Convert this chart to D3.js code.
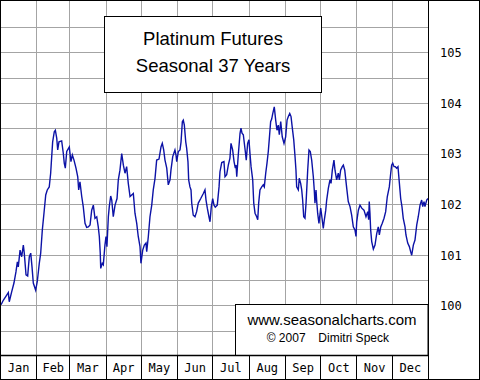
<!DOCTYPE html>
<html><head><meta charset="utf-8">
<script src="https://cdn.jsdelivr.net/npm/d3@7"></script>
<style>html,body{margin:0;padding:0;background:#fff;} svg{display:block;}</style>
</head><body>
<svg id="c" width="480" height="380"></svg>
<script>
const titleLines = ["Platinum Futures", "Seasonal 37 Years"];
const creditUrl = "www.seasonalcharts.com";
const creditYear = "\u00A9 2007";
const creditName = "Dimitri Speck";
const months = ["Jan","Feb","Mar","Apr","May","Jun","Jul","Aug","Sep","Oct","Nov","Dec"];
const monthStartDays = [0,31,59,90,120,151,181,212,243,273,304,334,365];
const yTicks = [100,101,102,103,104,105];
const days = [0.9,2.8,5.7,7.1,7.9,10.0,11.9,13.6,14.8,15.6,17.1,18.5,19.9,20.7,22.2,23.6,25.0,26.2,27.3,28.4,30.4,31.8,33.5,34.7,36.1,37.5,39.0,40.3,42.0,43.2,44.1,44.9,46.3,47.2,48.4,49.2,50.3,52.6,54.0,54.8,55.7,56.9,59.1,60.5,61.7,63.1,64.8,66.3,67.1,68.2,69.7,71.0,72.5,73.9,75.3,76.8,78.2,79.6,81.0,82.5,83.8,84.7,85.5,85.9,87.2,88.1,89.5,90.4,91.2,92.4,93.2,94.4,95.3,96.6,98.1,99.8,100.9,102.3,103.8,105.2,106.6,108.0,109.4,110.9,113.7,115.1,116.6,117.9,119.4,120.2,121.7,123.1,124.5,125.1,126.5,127.9,129.4,130.7,132.2,133.6,135.6,137.3,138.4,139.6,140.7,142.2,143.5,145.0,145.8,147.3,149.2,150.1,150.7,152.1,153.5,154.4,155.5,156.3,157.2,158.4,159.2,160.3,160.9,162.0,162.9,163.5,164.8,166.3,167.7,169.1,171.2,173.4,174.8,175.7,176.8,178.2,179.1,180.2,181.4,182.5,183.6,185.3,186.8,187.6,189.1,191.0,191.9,193.3,194.7,196.1,197.0,198.4,199.6,200.7,201.3,201.9,203.2,204.7,205.5,206.4,207.5,209.2,210.0,211.2,212.3,213.2,214.1,215.5,216.4,217.5,218.9,219.8,220.6,221.7,223.2,224.5,225.4,226.6,227.7,228.8,229.7,230.8,231.7,232.6,233.9,235.1,236.2,237.3,238.2,239.4,240.7,242.2,243.6,244.8,245.9,247.1,248.2,249.3,250.5,251.6,252.4,253.0,254.4,255.2,256.4,257.3,258.1,259.0,260.1,261.0,262.4,263.5,264.6,265.8,267.2,268.0,268.6,269.5,270.1,270.9,272.0,273.5,274.3,275.7,276.6,277.8,278.6,280.0,281.4,282.3,283.4,284.8,285.7,287.1,288.5,289.4,290.5,291.9,292.8,294.0,295.7,297.0,298.5,299.9,301.3,302.7,303.6,304.2,305.6,307.0,308.5,310.4,312.1,313.6,314.4,314.9,315.5,316.1,317.0,318.4,319.8,321.3,322.6,323.5,324.7,326.0,327.5,328.9,330.3,332.0,333.2,334.0,334.9,336.0,337.1,338.3,339.4,340.5,341.7,342.8,343.9,345.4,346.2,347.7,349.1,350.2,351.1,352.5,353.9,355.4,356.7,358.2,359.6,360.5,361.6,362.4,363.9,365.0];
const values = [100.01,100.10,100.20,100.25,100.07,100.27,100.44,100.66,100.86,100.76,101.09,100.96,101.19,101.03,100.60,100.58,100.96,101.03,100.76,100.44,100.30,100.47,100.83,101.03,101.49,101.82,102.18,102.28,102.34,102.61,102.94,103.23,103.43,103.46,103.30,103.07,103.23,103.25,103.00,102.81,102.71,103.04,103.13,102.84,102.97,102.87,102.71,102.54,102.28,102.44,102.15,101.95,101.62,101.54,101.55,101.59,101.88,101.98,101.72,101.75,101.55,101.36,101.03,100.73,100.83,100.80,101.19,101.36,101.16,101.75,101.95,102.16,102.08,101.75,101.98,102.11,102.48,102.67,103.00,102.77,102.61,102.74,102.41,102.15,102.21,101.82,101.62,101.36,101.16,100.83,101.09,101.19,101.23,101.06,101.36,101.75,101.98,102.28,102.51,102.87,102.89,103.13,103.20,103.07,102.87,102.71,102.38,102.48,102.67,102.94,103.07,102.97,102.84,103.04,103.07,103.23,103.63,103.66,103.56,103.23,103.10,102.84,102.48,102.34,102.28,102.02,101.78,101.75,101.85,102.02,102.11,102.21,102.28,102.08,101.92,101.75,101.65,101.95,102.11,101.98,101.94,101.98,102.34,102.64,102.82,102.84,102.54,102.58,102.77,102.91,103.20,103.07,102.84,102.71,102.77,102.54,102.97,103.40,103.50,103.40,103.37,103.04,102.87,103.20,103.27,103.00,102.74,102.48,102.02,101.82,101.75,101.69,102.02,102.28,102.34,102.38,102.34,102.61,102.81,103.04,103.30,103.63,103.68,103.79,103.92,103.66,103.46,103.56,103.37,103.63,103.33,103.20,103.33,103.66,103.73,103.79,103.73,103.50,103.27,102.94,102.67,102.34,102.28,102.51,102.41,102.28,102.08,101.75,101.72,102.02,102.67,103.07,103.04,102.87,102.54,102.28,102.02,102.28,102.05,101.82,101.62,101.92,101.78,101.52,101.69,101.88,102.08,102.31,102.48,102.41,102.67,102.87,102.67,102.48,102.61,102.48,102.67,102.74,102.77,102.67,102.31,102.05,101.95,101.78,101.55,101.49,101.36,101.65,101.88,101.98,101.92,101.88,101.75,101.85,101.69,102.05,101.82,101.49,101.26,101.11,101.19,101.42,101.55,101.39,101.55,101.62,101.72,101.85,102.15,102.34,102.61,102.77,102.81,102.74,102.74,102.71,102.74,102.44,102.11,101.95,101.72,101.55,101.39,101.23,101.16,101.06,100.99,101.19,101.29,101.59,101.75,101.98,102.08,101.95,102.05,101.95,102.08,102.11];

const svg = d3.select("#c");
const W = 480, H = 380, plotR = 428, plotB = 355;
const x = d3.scaleLinear().domain([0, 365]).range([0, plotR]);
const y = d3.scaleLinear().domain([99, 106]).range([355.9, 1.7]);
const crisp = v => Math.round(v) + 0.5;

svg.append("rect").attr("width", W).attr("height", H).attr("fill", "#fff");

// horizontal grid every 0.5
const hGrid = d3.range(99.5, 106, 0.5);
svg.append("g").selectAll("line").data(hGrid).join("line")
  .attr("x1", 0).attr("x2", plotR)
  .attr("y1", d => crisp(y(d))).attr("y2", d => crisp(y(d)))
  .attr("stroke", "#a4a4a4").attr("stroke-width", 1);

// vertical grid at month starts
const inner = monthStartDays.slice(1, -1);
svg.append("g").selectAll("line").data(inner).join("line")
  .attr("x1", d => crisp(x(d))).attr("x2", d => crisp(x(d)))
  .attr("y1", 0).attr("y2", plotB)
  .attr("stroke", "#a4a4a4").attr("stroke-width", 1);

// data line
const line = d3.line().x((d, i) => x(days[i])).y(d => y(d));
svg.append("path").datum(values).attr("d", line)
  .attr("fill", "none").attr("stroke", "#0c12a6").attr("stroke-width", 1.4)
  .attr("stroke-linejoin", "miter");

// title box
const tb = svg.append("g");
tb.append("rect").attr("x", 104.5).attr("y", 16.5).attr("width", 217).attr("height", 76)
  .attr("fill", "#fff").attr("stroke", "#000").attr("stroke-width", 1);
tb.selectAll("text").data(titleLines).join("text")
  .attr("x", 213).attr("y", (d, i) => i === 0 ? 45 : 72)
  .attr("text-anchor", "middle")
  .attr("font-family", "'Liberation Sans', Arial, sans-serif")
  .attr("font-size", 18.5).attr("fill", "#000").text(d => d);

// credit box
const cb = svg.append("g");
cb.append("rect").attr("x", 235.5).attr("y", 304.5).attr("width", 192.5).attr("height", 51)
  .attr("fill", "#fff").attr("stroke", "#000").attr("stroke-width", 1);
cb.append("text").attr("x", 332).attr("y", 325).attr("text-anchor", "middle")
  .attr("font-family", "'Liberation Sans', Arial, sans-serif").attr("font-size", 15)
  .attr("fill", "#000").text(creditUrl);
cb.append("text").attr("x", 266.7).attr("y", 342.3)
  .attr("font-family", "'Liberation Sans', Arial, sans-serif").attr("font-size", 12)
  .attr("fill", "#000").text(creditYear);
cb.append("text").attr("x", 318.3).attr("y", 342.3)
  .attr("font-family", "'Liberation Sans', Arial, sans-serif").attr("font-size", 12)
  .attr("fill", "#000").text(creditName);

// month strip separators
svg.append("g").selectAll("line").data(inner).join("line")
  .attr("x1", d => crisp(x(d))).attr("x2", d => crisp(x(d)))
  .attr("y1", plotB).attr("y2", H)
  .attr("stroke", "#000").attr("stroke-width", 1);

// month labels via axis
const mids = months.map((m, i) => (monthStartDays[i] + monthStartDays[i + 1]) / 2);
const xAxis = d3.axisBottom(x).tickValues(mids).tickSize(0).tickPadding(0)
  .tickFormat((d, i) => months[i]);
const gx = svg.append("g").attr("transform", "translate(0,363)").call(xAxis);
gx.select(".domain").remove();
gx.selectAll("text").attr("font-family", "'DejaVu Sans Mono', monospace")
  .attr("font-size", 12).attr("fill", "#000").attr("dy", "0.71em");

// right value axis
const yAxis = d3.axisRight(y).tickValues(yTicks).tickSize(0).tickPadding(0)
  .tickFormat(d3.format("d"));
const gy = svg.append("g").attr("transform", "translate(440,0)").call(yAxis);
gy.select(".domain").remove();
gy.selectAll("text").attr("font-family", "'DejaVu Sans Mono', monospace")
  .attr("font-size", 12).attr("fill", "#000").attr("x", 0).attr("dy", "0.36em");

// borders
svg.append("line").attr("x1", 0).attr("x2", plotR + 0.5).attr("y1", plotB + 0.5).attr("y2", plotB + 0.5)
  .attr("stroke", "#000").attr("stroke-width", 1.3);
svg.append("line").attr("x1", plotR + 0.5).attr("x2", plotR + 0.5).attr("y1", 0).attr("y2", H)
  .attr("stroke", "#000").attr("stroke-width", 1);
svg.append("rect").attr("x", 0.5).attr("y", 0.5).attr("width", W - 1).attr("height", H - 1)
  .attr("fill", "none").attr("stroke", "#000").attr("stroke-width", 1);
</script>
</body></html>
